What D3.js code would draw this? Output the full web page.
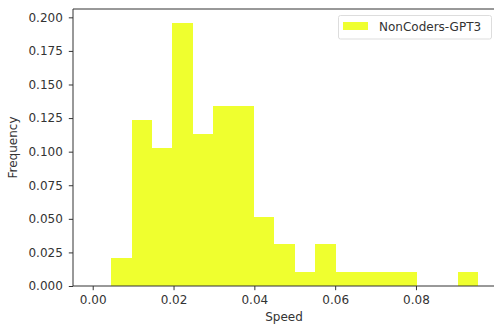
<!DOCTYPE html>
<html>
<head>
<meta charset="utf-8">
<script src="https://cdn.jsdelivr.net/npm/d3@7"></script>
<style>
  html, body { margin: 0; padding: 0; background: #fff; }
  svg { display: block; }
  text { font-family: "DejaVu Sans", sans-serif; }
</style>
</head>
<body>
<svg id="chart" width="494" height="328"></svg>
<script>
// Histogram bin edges (Speed) and normalised frequencies
const binEdges = [0.0046, 0.0096, 0.0147, 0.0197, 0.0248, 0.0298, 0.0349, 0.0399, 0.0449,
                  0.0500, 0.0550, 0.0601, 0.0651, 0.0701, 0.0752, 0.0802, 0.0853, 0.0903, 0.0953];
const frequencies = [0.0206, 0.1237, 0.1031, 0.1959, 0.1134, 0.1340, 0.1340, 0.0515, 0.0309,
                     0.0103, 0.0309, 0.0103, 0.0103, 0.0103, 0.0103, 0, 0, 0.0103];
const seriesName = "NonCoders-GPT3";
const xTicks = [0.00, 0.02, 0.04, 0.06, 0.08];
const yTicks = [0, 0.025, 0.05, 0.075, 0.1, 0.125, 0.15, 0.175, 0.2];
const xLabel = "Speed";
const yLabel = "Frequency";

(function () {
const barColor = "#efff2f";
const axisColor = "#333";
const fs = "12px";

const svg = d3.select("#chart");
const pLeft = 73, pRight = 498, pTop = 9, pBottom = 286;

const x = d3.scaleLinear().domain([-0.00488, 0.1003]).range([pLeft, pRight]);
const y = d3.scaleLinear().domain([0, 0.2062]).range([pBottom, pTop]);

const bins = frequencies.map((f, i) => ({x0: binEdges[i], x1: binEdges[i + 1], f}));

svg.append("g").selectAll("rect")
  .data(bins.filter(d => d.f > 0))
  .join("rect")
  .attr("x", d => x(d.x0))
  .attr("width", d => x(d.x1) - x(d.x0))
  .attr("y", d => y(d.f))
  .attr("height", d => y(0) - y(d.f))
  .attr("fill", barColor)
  .attr("shape-rendering", "crispEdges");

// Axes
const xAxis = d3.axisBottom(x).tickValues(xTicks).tickFormat(d3.format(".2f"))
  .tickSizeInner(4.2).tickSizeOuter(0).tickPadding(5.3);
const yAxis = d3.axisLeft(y).tickValues(yTicks).tickFormat(d3.format(".3f"))
  .tickSizeInner(4.2).tickSizeOuter(0).tickPadding(6);

const gx = svg.append("g").attr("transform", `translate(0,${pBottom})`).call(xAxis);
const gy = svg.append("g").attr("transform", `translate(${pLeft},0)`).call(yAxis);
[gx, gy].forEach(g => {
  g.select(".domain").remove();
  g.selectAll(".tick line").attr("stroke", axisColor).attr("stroke-width", 1);
  g.selectAll(".tick text").attr("fill", axisColor).style("font-size", fs)
    .style("font-family", "'DejaVu Sans', sans-serif");
});

// Spines (left, bottom, top; right is outside the view)
const spines = svg.append("g").attr("stroke", axisColor).attr("stroke-width", 1).attr("fill", "none");
spines.append("line").attr("x1", pLeft).attr("x2", pLeft).attr("y1", pTop).attr("y2", pBottom);
spines.append("line").attr("x1", pLeft).attr("x2", pRight).attr("y1", pBottom).attr("y2", pBottom);
spines.append("line").attr("x1", pLeft).attr("x2", pRight).attr("y1", pTop).attr("y2", pTop);

// Axis labels
svg.append("text").attr("x", 284).attr("y", 321)
  .attr("text-anchor", "middle").attr("fill", axisColor).style("font-size", fs).text(xLabel);
svg.append("text").attr("transform", `translate(17,147.5) rotate(-90)`)
  .attr("text-anchor", "middle").attr("fill", axisColor).style("font-size", fs).text(yLabel);

// Legend
const lg = svg.append("g");
lg.append("rect").attr("x", 338.5).attr("y", 15.5).attr("width", 153).attr("height", 23.5)
  .attr("rx", 2).attr("fill", "#fff").attr("fill-opacity", 0.8)
  .attr("stroke", "#ddd").attr("stroke-width", 1);
lg.append("rect").attr("x", 343).attr("y", 22).attr("width", 25).attr("height", 8).attr("fill", barColor);
lg.append("text").attr("x", 379).attr("y", 30.5).attr("fill", axisColor)
  .style("font-size", fs).text(seriesName);
})();
</script>
</body>
</html>
